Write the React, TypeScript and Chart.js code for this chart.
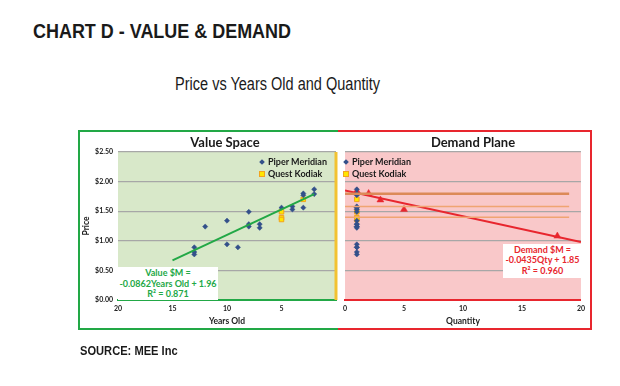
import React, { useEffect, useRef } from "react";
import { Chart, registerables } from "chart.js";

Chart.register(...registerables);

// ---------- DATA ----------
// Value Space (x = years old, y = price $M)
const piperYearsOld = [13, 13, 13, 12, 10, 10, 9, 8, 8, 8, 7, 7, 5, 4, 4, 3, 3, 3, 2, 2];
const piperPrice = [0.89, 0.81, 0.77, 1.24, 1.34, 0.94, 0.89, 1.49, 1.28, 1.24, 1.28, 1.22, 1.56, 1.58, 1.53, 1.8, 1.77, 1.56, 1.87, 1.79];
const questYearsOld = [5, 5, 5, 3];
const questPrice = [1.49, 1.39, 1.36, 1.7];
const valueTrendX = [15, 2];
const valueTrendY = [0.67, 1.79];

// Demand Plane (x = quantity, y = price $M)
const piperQty = [1, 1, 1, 1, 1, 1, 1, 1, 1, 1, 1, 1, 1, 1, 1, 1, 1, 1, 1, 1];
const questQty = [1, 1, 1, 1];
const demandQty = [1, 2, 3, 5, 18];
const demandPrice = [1.84, 1.8, 1.69, 1.53, 1.08];
const demandTrendX = [0, 20];
const demandTrendY = [1.85, 0.98];
const priceLevels = [1.795, 1.58, 1.397];
const priceLevelX = [0, 19];

const dividerX = [0, 0];
const dividerY = [0, 2.5];

const yTickValues = [0, 0.5, 1, 1.5, 2, 2.5];
const yTickLabels = ["$0.00", "$0.50", "$1.00", "$1.50", "$2.00", "$2.50"];

// ---------- STYLE ----------
const GREEN = "#22a846";
const RED = "#e8262e";
const BLUE = "#33508a";
const YEL = "#ffe600";
const YEL_BORDER = "#f2a31f";
const GRID = "#a7a7a7";
const TICK_FONT = { family: "Lato", size: 7, weight: "bold" as const };
const AXIS_TITLE_FONT = { family: "Lato", size: 8.5, weight: "bold" as const };
const NARROW = "'Liberation Sans', Arial, sans-serif";

const zip = (xs: number[], ys: number[]) => xs.map((x, i) => ({ x, y: ys[i] }));

const bgPlugin = {
  id: "plotBg",
  beforeDraw(chart: any, _args: any, opts: any) {
    const { ctx, chartArea: a } = chart;
    ctx.save();
    ctx.fillStyle = opts.color;
    ctx.fillRect(a.left, a.top, a.right - a.left, a.bottom - a.top);
    ctx.restore();
  },
};

const gridColor = (c: any) => (c.tick && c.tick.value === 0 ? "rgba(0,0,0,0)" : GRID);

function baseY(showTicks: boolean) {
  return {
    type: "linear" as const,
    min: 0,
    max: 2.5,
    afterBuildTicks: (s: any) => {
      s.ticks = yTickValues.map((v) => ({ value: v }));
    },
    ticks: {
      display: showTicks,
      padding: 5,
      color: "#1a1a1a",
      font: TICK_FONT,
      callback: (v: any) => {
        const i = yTickValues.indexOf(Number(v));
        return i >= 0 ? yTickLabels[i] : "";
      },
    },
    grid: { color: gridColor, lineWidth: 1.2, drawTicks: false },
    border: { display: false },
    title: {
      display: showTicks,
      text: "Price",
      color: "#1a1a1a",
      font: AXIS_TITLE_FONT,
      padding: { top: 1, bottom: 0 },
    },
    afterFit: (s: any) => {
      s.width = showTicks ? 38 : 0;
    },
  };
}

function ValueChart() {
  const ref = useRef<HTMLCanvasElement>(null);
  useEffect(() => {
    const chart = new Chart(ref.current!, {
      type: "scatter",
      data: {
        datasets: [
          {
            label: "Value trend",
            type: "line",
            data: zip(valueTrendX, valueTrendY),
            borderColor: GREEN,
            borderWidth: 2,
            pointRadius: 0,
            fill: false,
          } as any,
          {
            label: "Piper Meridian",
            data: zip(piperYearsOld, piperPrice),
            pointStyle: "rectRot",
            pointRadius: 2.6,
            backgroundColor: BLUE,
            borderColor: BLUE,
            borderWidth: 0.5,
          },
          {
            label: "Quest Kodiak",
            data: zip(questYearsOld, questPrice),
            pointStyle: "rect",
            pointRadius: 3.2,
            backgroundColor: YEL,
            borderColor: YEL_BORDER,
            borderWidth: 1,
          },
          {
            label: "Divider",
            type: "line",
            data: zip(dividerX, dividerY),
            borderColor: "#f2c232",
            borderWidth: 3,
            pointRadius: 0,
            clip: false,
          } as any,
        ],
      },
      options: {
        animation: false,
        responsive: false,
        events: [],
        layout: { padding: { left: 0, right: 3, top: 20, bottom: 0 } },
        plugins: {
          legend: { display: false },
          tooltip: { enabled: false },
          plotBg: { color: "#d8e8c9" },
        } as any,
        scales: {
          x: {
            type: "linear",
            min: 0,
            max: 20,
            reverse: true,
            ticks: {
              stepSize: 5,
              padding: 5,
              color: "#1a1a1a",
              font: TICK_FONT,
              callback: (v: any) => (Number(v) === 0 ? "" : String(v)),
            },
            grid: { display: false, drawTicks: false },
            border: { display: true, color: GREEN, width: 2 },
            title: {
              display: true,
              text: "Years Old",
              color: "#1a1a1a",
              font: AXIS_TITLE_FONT,
              padding: { top: 0, bottom: 2 },
            },
            afterFit: (s: any) => {
              s.height = 28;
            },
          },
          y: baseY(true) as any,
        },
      },
      plugins: [bgPlugin],
    });
    return () => chart.destroy();
  }, []);
  return (
    <canvas
      ref={ref}
      width={261}
      height={196}
      style={{ position: "absolute", left: 80, top: 132, width: 261, height: 196 }}
    />
  );
}

function DemandChart() {
  const ref = useRef<HTMLCanvasElement>(null);
  useEffect(() => {
    const levelSets = priceLevels.map((p, i) => ({
      label: "Level " + (i + 1),
      type: "line",
      data: zip(priceLevelX, [p, p]),
      borderColor: i === 0 ? "#dc8a58" : "#f0a472",
      borderWidth: i === 0 ? 2.4 : 1.4,
      pointRadius: 0,
    }));
    const chart = new Chart(ref.current!, {
      type: "scatter",
      data: {
        datasets: [
          ...(levelSets as any[]),
          {
            label: "Piper Meridian",
            data: zip(piperQty, piperPrice),
            pointStyle: "rectRot",
            pointRadius: 2.6,
            backgroundColor: BLUE,
            borderColor: BLUE,
            borderWidth: 0.5,
          },
          {
            label: "Quest Kodiak",
            data: zip(questQty, questPrice),
            pointStyle: "rect",
            pointRadius: 3.2,
            backgroundColor: YEL,
            borderColor: YEL_BORDER,
            borderWidth: 1,
          },
          {
            label: "Demand trend",
            type: "line",
            data: zip(demandTrendX, demandTrendY),
            borderColor: RED,
            borderWidth: 2,
            pointRadius: 0,
          } as any,
          {
            label: "Demand",
            data: zip(demandQty, demandPrice),
            pointStyle: "triangle",
            pointRadius: 4,
            backgroundColor: RED,
            borderColor: RED,
            borderWidth: 0.5,
          },
        ],
      },
      options: {
        animation: false,
        responsive: false,
        events: [],
        layout: { padding: { left: 0, right: 6, top: 20, bottom: 0 } },
        plugins: {
          legend: { display: false },
          tooltip: { enabled: false },
          plotBg: { color: "#f9c8c9" },
        } as any,
        scales: {
          x: {
            type: "linear",
            min: 0,
            max: 20,
            ticks: { stepSize: 5, padding: 5, color: "#1a1a1a", font: TICK_FONT },
            grid: { display: false, drawTicks: false },
            border: { display: true, color: RED, width: 2 },
            title: {
              display: true,
              text: "Quantity",
              color: "#1a1a1a",
              font: AXIS_TITLE_FONT,
              padding: { top: 0, bottom: 2 },
            },
            afterFit: (s: any) => {
              s.height = 28;
            },
          },
          y: baseY(false) as any,
        },
      },
      plugins: [bgPlugin],
    });
    return () => chart.destroy();
  }, []);
  return (
    <canvas
      ref={ref}
      width={252}
      height={196}
      style={{ position: "absolute", left: 338, top: 132, width: 252, height: 196 }}
    />
  );
}

const abs = (s: React.CSSProperties): React.CSSProperties => ({ position: "absolute", ...s });

function Legend({ left, top }: { left: number; top: number }) {
  const text: React.CSSProperties = {
    fontFamily: "Lato",
    fontWeight: 700,
    fontSize: 9,
    color: "#1a1a1a",
    lineHeight: "10px",
    whiteSpace: "nowrap",
  };
  return (
    <>
      <div style={abs({ left: left - 2, top: top - 2, width: 4, height: 4, background: BLUE, transform: "rotate(45deg)" })} />
      <div style={abs({ left: left + 6, top: top - 5, ...text })}>Piper Meridian</div>
      <div
        style={abs({
          left: left - 3,
          top: top + 11.5 - 3,
          width: 4,
          height: 4,
          background: YEL,
          border: `1px solid ${YEL_BORDER}`,
        })}
      />
      <div style={abs({ left: left + 6, top: top + 11.5 - 5, ...text })}>Quest Kodiak</div>
    </>
  );
}

export default function App() {
  const annot: React.CSSProperties = {
    fontFamily: "Lato",
    fontWeight: 700,
    fontSize: 9,
    textAlign: "center",
    background: "#ffffff",
    whiteSpace: "nowrap",
  };
  const squeeze = (sx: number): React.CSSProperties => ({
    transform: `scaleX(${sx})`,
    transformOrigin: "0 0",
  });
  return (
    <div
      style={{
        position: "fixed",
        left: 0,
        top: 0,
        width: 620,
        height: 386,
        background: "#ffffff",
        overflow: "hidden",
      }}
    >
      <div
        style={abs({
          left: 33,
          top: 19,
          fontFamily: NARROW,
          fontWeight: 700,
          fontSize: 21,
          lineHeight: "24px",
          color: "#1a1a1a",
          whiteSpace: "nowrap",
          ...squeeze(0.855),
        })}
      >
        CHART D - VALUE &amp; DEMAND
      </div>
      <div
        style={abs({
          left: 175,
          top: 74,
          fontFamily: NARROW,
          fontSize: 17.5,
          lineHeight: "20px",
          color: "#1a1a1a",
          whiteSpace: "nowrap",
          ...squeeze(0.83),
        })}
      >
        Price vs Years Old and Quantity
      </div>

      <div
        style={abs({
          left: 78,
          top: 130,
          width: 260,
          height: 200,
          boxSizing: "border-box",
          borderTop: `2px solid ${GREEN}`,
          borderLeft: `2px solid ${GREEN}`,
          borderBottom: `2px solid ${GREEN}`,
        })}
      />
      <div
        style={abs({
          left: 338,
          top: 130,
          width: 254,
          height: 200,
          boxSizing: "border-box",
          borderTop: `2px solid ${RED}`,
          borderRight: `2px solid ${RED}`,
          borderBottom: `2px solid ${RED}`,
        })}
      />

      <DemandChart />
      <ValueChart />

      <div
        style={abs({
          left: 160,
          top: 134,
          width: 130,
          textAlign: "center",
          fontFamily: "Lato",
          fontWeight: 700,
          fontSize: 13,
          lineHeight: "16px",
          color: "#1a1a1a",
        })}
      >
        Value Space
      </div>
      <div
        style={abs({
          left: 408,
          top: 134,
          width: 130,
          textAlign: "center",
          fontFamily: "Lato",
          fontWeight: 700,
          fontSize: 13,
          lineHeight: "16px",
          color: "#1a1a1a",
        })}
      >
        Demand Plane
      </div>

      <Legend left={262} top={162} />
      <Legend left={346} top={162} />

      <div style={abs({ left: 118, top: 267, width: 100, height: 32, color: GREEN, lineHeight: "10.7px", paddingTop: 1, ...annot })}>
        Value $M =<br />-0.0862Years Old + 1.96<br />R² = 0.871
      </div>
      <div style={abs({ left: 503, top: 244, width: 79, height: 33, color: RED, lineHeight: "10.4px", paddingTop: 1, ...annot })}>
        Demand $M =<br />-0.0435Qty + 1.85<br />R² = 0.960
      </div>

      <div
        style={abs({
          left: 80,
          top: 344,
          fontFamily: NARROW,
          fontWeight: 700,
          fontSize: 12.5,
          lineHeight: "15px",
          color: "#1a1a1a",
          whiteSpace: "nowrap",
          ...squeeze(0.89),
        })}
      >
        SOURCE: MEE Inc
      </div>
    </div>
  );
}
